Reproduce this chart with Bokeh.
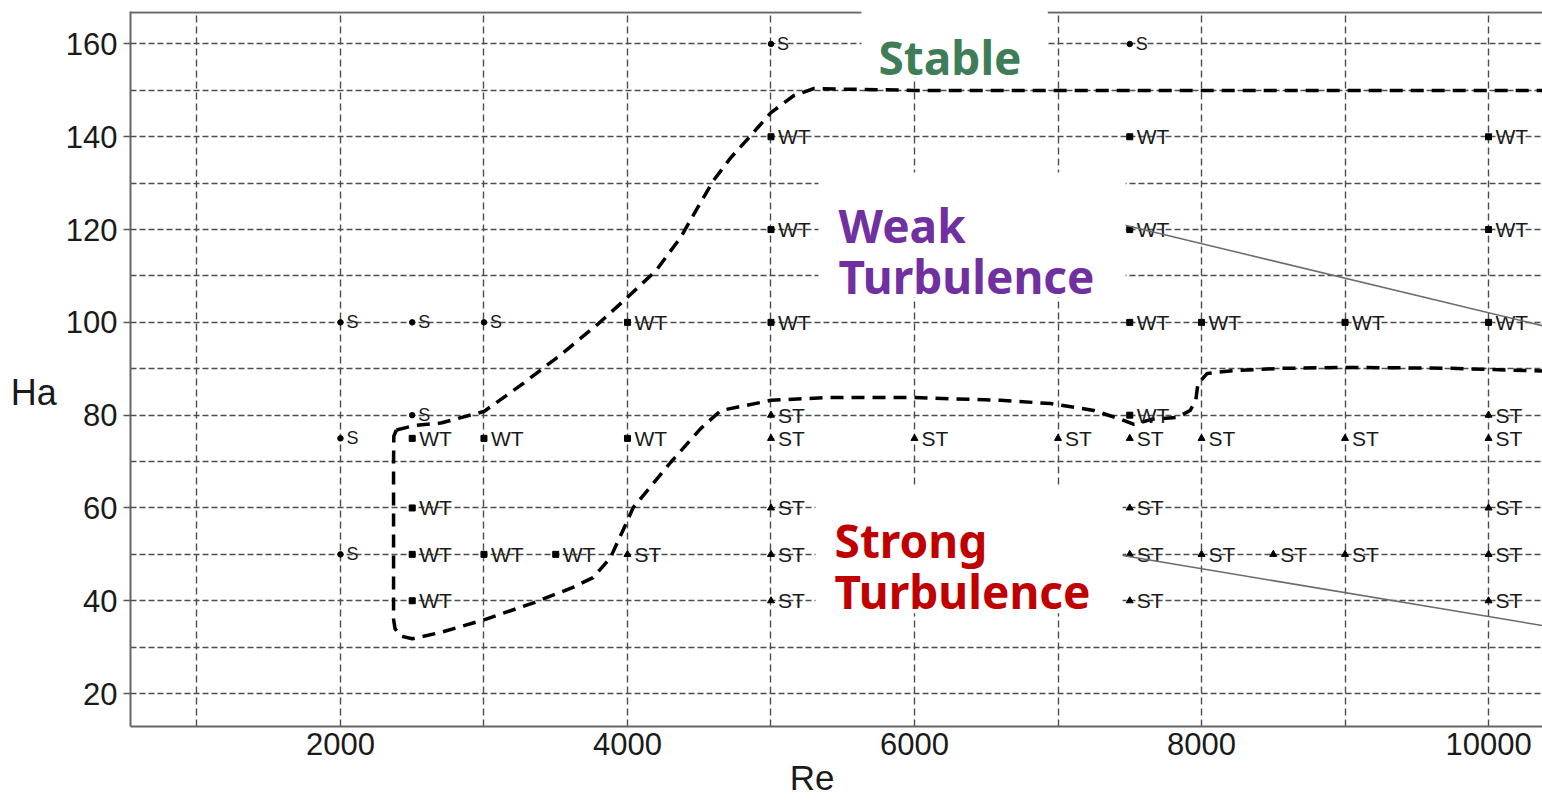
from bokeh.plotting import figure
from bokeh.models import (FixedTicker, BoxAnnotation, Label, Arrow, Range1d,
                          ColumnDataSource)
from bokeh.core.properties import value
from bokeh.embed import file_html
from bokeh.resources import INLINE

# ---- observed regimes (Re, Ha) ----
stable_re = [5000, 7500, 2000, 2500, 3000, 2500, 2000, 2000]
stable_ha = [160, 160, 100, 100, 100, 80, 75, 50]

weak_re = [5000, 7500, 10000, 5000, 7500, 10000, 4000, 5000, 7500, 8000, 9000, 10000,
           7500, 2500, 3000, 4000, 2500, 2500, 3000, 3500, 2500]
weak_ha = [140, 140, 140, 120, 120, 120, 100, 100, 100, 100, 100, 100,
           80, 75, 75, 75, 60, 50, 50, 50, 40]

strong_re = [5000, 10000, 5000, 6000, 7000, 7500, 8000, 9000, 10000, 5000, 7500, 10000,
             4000, 5000, 7500, 8000, 8500, 9000, 10000, 5000, 7500, 10000]
strong_ha = [80, 80, 75, 75, 75, 75, 75, 75, 75, 60, 60, 60,
             50, 50, 50, 50, 50, 50, 50, 40, 40, 40]

# ---- regime boundaries ----
upper_re = [2390, 2520, 2700, 3000, 3250, 3530, 3800, 4000, 4200, 4370, 4490, 4600,
            4720, 4840, 5000, 5160, 5300, 5450, 6000, 10500]
upper_ha = [76.8, 77.8, 78.3, 80.8, 86.3, 92.9, 99.8, 105.4, 111.2, 118.3, 124.8, 130.6,
            135.5, 139.6, 145.2, 148.9, 150.4, 150.3, 150.0, 150.0]

lower_re = [2390, 2372, 2370, 2370, 2380, 2420, 2500, 2700, 3000, 3350, 3620, 3760, 3880,
            3990, 4040, 4300, 4510, 4650, 5000, 5400, 6000, 6600, 6950, 7250, 7420, 7530,
            7650, 7830, 7920, 7960, 7975, 8040, 8220, 8570, 9040, 9740, 10500]
lower_ha = [76.8, 75.5, 70, 36, 34, 32.4, 31.8, 33.2, 35.9, 39.6, 42.9, 45, 49.2,
            56.6, 60.1, 69.8, 77.1, 81, 83.2, 83.8, 83.8, 83.2, 82.5, 81, 79.3, 78,
            79.1, 79.5, 81, 83.2, 86.8, 89, 89.6, 90.1, 90.3, 90.1, 89.4]

x_ticks = [2000, 4000, 6000, 8000, 10000]
y_ticks = [20, 40, 60, 80, 100, 120, 140, 160]
x_grid = [1000, 2000, 3000, 4000, 5000, 6000, 7000, 8000, 9000, 10000]
y_grid = [20, 30, 40, 50, 60, 70, 80, 90, 100, 110, 120, 130, 140, 150, 160]

X0, X1 = 537, 10376
Y0, Y1 = 12.9, 167.0

# white caption panels: (left, right, bottom, top)
stable_panel = (5631, 6927, 152.8, 173.0)
weak_panel = (5331, 7471, 105.4, 132.3)
strong_panel = (5310, 7450, 37.3, 64.8)

p = figure(width=1542, height=804, x_range=Range1d(X0, X1), y_range=Range1d(Y0, Y1),
           output_backend="svg", toolbar_location=None,
           min_border_left=130, min_border_right=0, min_border_top=11, min_border_bottom=78,
           background_fill_color="white", border_fill_color="white")
p.outline_line_color = None

AX_FONT = "Liberation Sans"
for ax in (p.xaxis[0], p.yaxis[0]):
    ax.axis_line_color = "#666666"
    ax.axis_line_width = 2
    ax.minor_tick_line_color = None
    ax.major_label_text_font = AX_FONT
    ax.major_label_text_font_size = "31px"
    ax.major_label_text_color = "#1a1a1a"
    ax.major_label_standoff = 6
    ax.axis_label_text_font = AX_FONT
    ax.axis_label_text_font_style = "normal"
    ax.axis_label_text_color = "#1a1a1a"

p.xaxis.ticker = FixedTicker(ticks=x_ticks)
p.yaxis.ticker = FixedTicker(ticks=y_ticks)
p.xaxis.major_tick_out = 0
p.xaxis.major_tick_in = 0
p.yaxis.major_tick_out = 7
p.yaxis.major_tick_in = 0
p.yaxis.major_tick_line_color = "#555555"
p.yaxis.major_tick_line_width = 1.5

# axis titles: "Re" sits a little left of the frame centre, "Ha" a little below it
p.xaxis.axis_label = "Re" + "\u00a0" * 5
p.xaxis.axis_label_text_font_size = "35px"
p.xaxis.axis_label_standoff = 0

p.yaxis.axis_label = "\nHa"
p.yaxis.axis_label_text_font_size = "36px"
p.yaxis.axis_label_text_line_height = 1.15
p.yaxis.axis_label_orientation = "horizontal"
p.yaxis.axis_label_standoff = 6

p.xgrid.ticker = FixedTicker(ticks=x_grid)
p.ygrid.ticker = FixedTicker(ticks=y_grid)
p.xgrid.grid_line_color = "#4d4d4d"
p.xgrid.grid_line_dash = "7 4"
p.xgrid.grid_line_width = 1.4
p.ygrid.grid_line_color = "#4d4d4d"
p.ygrid.grid_line_dash = "6 3"
p.ygrid.grid_line_width = 1.4

# top border of the frame, interrupted by the "Stable" panel
p.segment(x0=[X0, stable_panel[1]], x1=[stable_panel[0], X1], y0=[Y1 - 0.2, Y1 - 0.2],
          y1=[Y1 - 0.2, Y1 - 0.2], line_color="#666666", line_width=2.2)

# regime boundaries
p.line(upper_re, upper_ha, line_color="black", line_width=3.5, line_dash="13 8")
p.line(lower_re, lower_ha, line_color="black", line_width=3.5, line_dash="13 8")

# observations
s_src = ColumnDataSource(dict(x=stable_re, y=stable_ha, t=["S"] * len(stable_re)))
w_src = ColumnDataSource(dict(x=weak_re, y=weak_ha, t=["WT"] * len(weak_re)))
t_src = ColumnDataSource(dict(x=strong_re, y=strong_ha, t=["ST"] * len(strong_re)))

p.scatter("x", "y", source=s_src, marker="circle", size=5.5, color="black")
p.scatter("x", "y", source=w_src, marker="square", size=6, color="black")
p.scatter("x", "y", source=t_src, marker="triangle", size=7, color="black")

p.text("x", "y", text="t", source=s_src, x_offset=6, text_align="left",
       text_baseline="middle", text_font=value(AX_FONT), text_font_size="18px",
       text_color="#1a1a1a")
for src in (w_src, t_src):
    p.text("x", "y", text="t", source=src, x_offset=7, text_align="left",
           text_baseline="middle", text_font=value(AX_FONT), text_font_size="21px",
           text_color="#1a1a1a")

# pointer lines leading off to the right
for xs, ys, xe, ye in [(7150, 123.3, 10520, 98.2),
                       (7150, 51.3, 10520, 33.9)]:
    p.add_layout(Arrow(start=None, end=None, x_start=xs, y_start=ys, x_end=xe, y_end=ye,
                       line_color="#6b6b6b", line_width=1.5))

# regime captions on white panels
for l, r, b, t in (stable_panel, weak_panel, strong_panel):
    p.add_layout(BoxAnnotation(left=l, right=r, bottom=b, top=t, fill_color="white",
                               fill_alpha=1.0, line_color=None))

CAP_FONT = "Noto Sans"
captions = [(5749, 157.1, "Stable", "#3f7d58"),
            (5471, 120.9, "Weak", "#7030a0"),
            (5471, 110.1, "Turbulence", "#7030a0"),
            (5443, 53.0, "Strong", "#c00000"),
            (5443, 42.2, "Turbulence", "#c00000")]
for x, y, txt, col in captions:
    p.add_layout(Label(x=x, y=y, text=txt, text_font=CAP_FONT, text_font_size="46px",
                       text_font_style="bold", text_color=col, text_align="left",
                       text_baseline="alphabetic"))

open("out.html", "w").write(file_html(p, INLINE))
